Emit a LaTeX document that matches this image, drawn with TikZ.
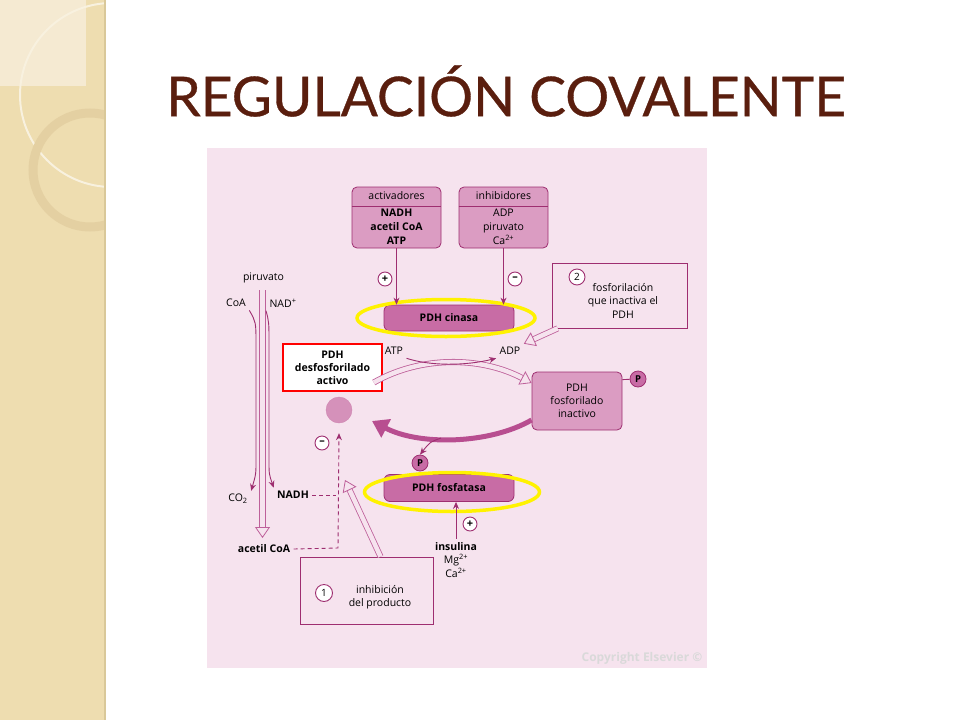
\documentclass[tikz,border=0pt]{standalone}
\usepackage{fontspec}
\setmainfont{Open Sans}
\newfontfamily\titlefont[FakeBold=0.6]{Lato}
\usetikzlibrary{arrows.meta,positioning,shapes.geometric}
\definecolor{stripbeige}{HTML}{EEDDB0}
\definecolor{striplight}{HTML}{F5EAD2}
\definecolor{stripedge}{HTML}{D9C899}
\definecolor{ringbeige}{HTML}{E4D0A2}
\definecolor{titlebrown}{HTML}{5A1E0E}
\definecolor{pinkbg}{HTML}{F6E3EE}
\definecolor{boxpink}{HTML}{DB9CC2}
\definecolor{darkpink}{HTML}{C86CA5}
\definecolor{linemag}{HTML}{9E2E70}
\definecolor{arcmag}{HTML}{B84E90}
\definecolor{hollowmag}{HTML}{BE609A}
\tikzstyle{regbox} = [rectangle, rounded corners=5pt, draw=linemag, fill=boxpink, line width=0.8pt, align=center]
\tikzstyle{enzyme} = [rectangle, rounded corners=6pt, draw=linemag, fill=darkpink, line width=0.8pt, minimum width=130pt, minimum height=26pt, font=\bfseries\fontsize{10.5}{12}\selectfont]
\tikzstyle{halo} = [ellipse, draw=yellow, line width=3.5pt]
\tikzstyle{note} = [rectangle, draw=linemag, fill=pinkbg, line width=0.8pt]
\tikzstyle{sign} = [circle, draw=linemag, fill=white, line width=0.9pt, inner sep=0pt, minimum size=14pt, font=\bfseries\fontsize{11}{11}\selectfont]
\tikzstyle{phos} = [circle, draw=linemag, fill=darkpink, line width=0.8pt, inner sep=0pt, minimum size=16pt, font=\bfseries\fontsize{9.5}{9.5}\selectfont]
\tikzstyle{arrow} = [line width=0.9pt, draw=linemag, -{Stealth[length=7pt,width=6pt]}]
\tikzstyle{dasharrow} = [arrow, dash pattern=on 4pt off 3pt]
\tikzstyle{hollow} = [line width=0.8pt, draw=hollowmag, double=pinkbg, double distance=4.5pt, -{Triangle[open,length=11pt,width=15pt]}]

\begin{document}
\begin{tikzpicture}[x=1pt,y=-1pt,font=\fontsize{10.5}{12}\selectfont]
\useasboundingbox (0,0) rectangle (960,720);
% slide background
\fill[white] (0,0) rectangle (960,720);
\fill[stripbeige] (0,0) rectangle (105,720);
\fill[striplight] (0,0) rectangle (86,86);
\begin{scope}
\clip (0,0) rectangle (105,720);
\draw[white!60!stripbeige, line width=2pt] (112,95) circle (92);
\draw[ringbeige, line width=9pt] (90,170) circle (57);
\end{scope}
\draw[stripedge, line width=1.5pt] (105,0) -- (105,720);

% title
\node (title) [text=titlebrown, font=\titlefont\fontsize{55}{64}\selectfont] at (506,91) {REGULACIÓN COVALENTE};

% figure panel
\fill[pinkbg] (207,148) rectangle (707,668);

% effectors of the kinase
\node (act) [regbox, minimum width=89pt, minimum height=61pt] at (396.5,217.5) {};
\node (acth) at (396.5,196) {activadores};
\node (actl) [align=center, font=\bfseries\fontsize{10.5}{14}\selectfont] at (396.5,227) {NADH\\acetil CoA\\ATP};
\draw[linemag, line width=0.8pt] (act.west |- 0,206) -- (act.east |- 0,206);
\node (inh) [regbox, minimum width=89pt, minimum height=61pt] at (503.5,217.5) {};
\node (inhh) at (503.5,196) {inhibidores};
\node (inhl) [align=center, font=\fontsize{10.5}{14}\selectfont] at (503.5,227) {ADP\\piruvato\\Ca\textsuperscript{2+}};
\draw[linemag, line width=0.8pt] (inh.west |- 0,206) -- (inh.east |- 0,206);

% PDH cinasa
\node (cin) [enzyme] at (449,318) {PDH cinasa};
\node (cinhalo) [halo, minimum width=178pt, minimum height=37pt] at (446,318) {};
\draw[arrow] (act.south) -- (act.south |- cin.north);
\draw[arrow] (inh.south) -- (inh.south |- cin.north);
\node (actplus) [sign] at (385,279) {+};
\node (inhminus) [sign] at (515,279) {–};

% note 2
\node (note2) [note, minimum width=135pt, minimum height=65pt] at (619.5,295.5) {};
\node (num2) [sign, minimum size=16pt, font=\fontsize{10}{10}\selectfont] at (577,277) {2};
\node (note2t) [align=center, font=\fontsize{10.5}{13.5}\selectfont] at (623,300.5) {fosforilación\\que inactiva el\\PDH};

% phosphorylation
\node (atp) at (394,351) {ATP};
\node (adp) at (510,351) {ADP};
\node (pdhact) [draw=red, line width=1.6pt, fill=white, minimum width=99pt, minimum height=47pt, align=center, font=\bfseries\fontsize{10.5}{13}\selectfont] at (332.5,367.5) {PDH\\desfosforilado\\activo};
\node (pdhf) [regbox, minimum width=90pt, minimum height=58pt, font=\fontsize{10.5}{13}\selectfont] at (577,401) {PDH\\fosforilado\\inactivo};
\node (pf) [phos] at (638,379) {P};
\draw[linemag, line width=0.9pt] ([yshift=-8pt]pdhf.north east) -- (pf);
\draw[hollow] ([xshift=-9pt,yshift=-15pt]pdhact.east) .. controls (420,356) and (480,356) .. ([yshift=18pt]pdhf.west);
\draw[arrow] (atp.south east) .. controls (430,366) and (465,366) .. (adp.south west);
\draw[hollow] ([xshift=6pt]note2.south west) -- (adp.north east);

% dephosphorylation
\node (pdha) [circle, fill=boxpink!90!linemag, draw=boxpink!80!linemag, minimum size=26pt, inner sep=0pt] at (339,410) {};
\coordinate (backend) at (372,421);
\draw[arcmag, line width=5pt, -{Triangle[length=16pt,width=20pt]}] ([yshift=-19pt]pdhf.west) .. controls (490,444) and (420,446) .. (backend);
\node (pp) [phos] at (420,463) {P};
\draw[arrow] (441,438) .. controls (430,442) .. (pp.north);
\node (fos) [enzyme, minimum height=27pt] at (449,488) {PDH fosfatasa};
\node (foshalo) [halo, minimum width=175pt, minimum height=39pt] at (452,492) {};
\node (ins) [align=center, font=\fontsize{10.5}{13.5}\selectfont] at (456,560) {\textbf{insulina}\\Mg\textsuperscript{2+}\\Ca\textsuperscript{2+}};
\node (fosplus) [sign] at (470,524) {+};
\draw[arrow] (ins.north) -- (ins.north |- fos.south);

% pyruvate pathway
\node (pir) at (263.5,278) {piruvato};
\node (coa) at (236,303) {CoA};
\node (nad) at (283,303) {NAD\textsuperscript{+}};
\node (co2) at (238,499) {CO\textsubscript{2}};
\node (nadh) [font=\bfseries\fontsize{10.5}{12}\selectfont] at (293,495) {NADH};
\node (acoa) [font=\bfseries\fontsize{10.5}{12}\selectfont] at (264,549) {acetil CoA};
\draw[hollow] (262.5,290) -- (262.5,538);
\draw[arrow] (coa.south east) .. controls (256,322) .. (256,345) -- (256,460) .. controls (256,474) .. (co2.north east);
\draw[arrow] (nad.south west) .. controls (269,322) .. (269,345) -- (269,460) .. controls (269,474) .. (nadh.north west);

% product inhibition
\coordinate (dj) at (338,548);
\draw[dasharrow] (acoa.east) -- (dj) -- ([yshift=-10pt]pdha.south);
\draw[linemag, line width=0.9pt, dash pattern=on 4pt off 3pt] (nadh.east) -- (336,495);
\node (inhminus2) [sign] at (322,443) {–};
\node (note1) [note, minimum width=133pt, minimum height=67pt] at (366.5,590.5) {};
\node (num1) [sign, minimum size=17pt, font=\fontsize{10}{10}\selectfont] at (324,593) {1};
\node (note1t) [align=center, font=\fontsize{10.5}{13}\selectfont] at (380,597) {inhibición\\del producto};
\draw[hollow] ([xshift=14pt]note1.north) -- (345,480);

\node (copy) [text=black!15, font=\bfseries\fontsize{12}{14}\selectfont] at (642,658) {Copyright Elsevier ©};
\end{tikzpicture}
\end{document}
